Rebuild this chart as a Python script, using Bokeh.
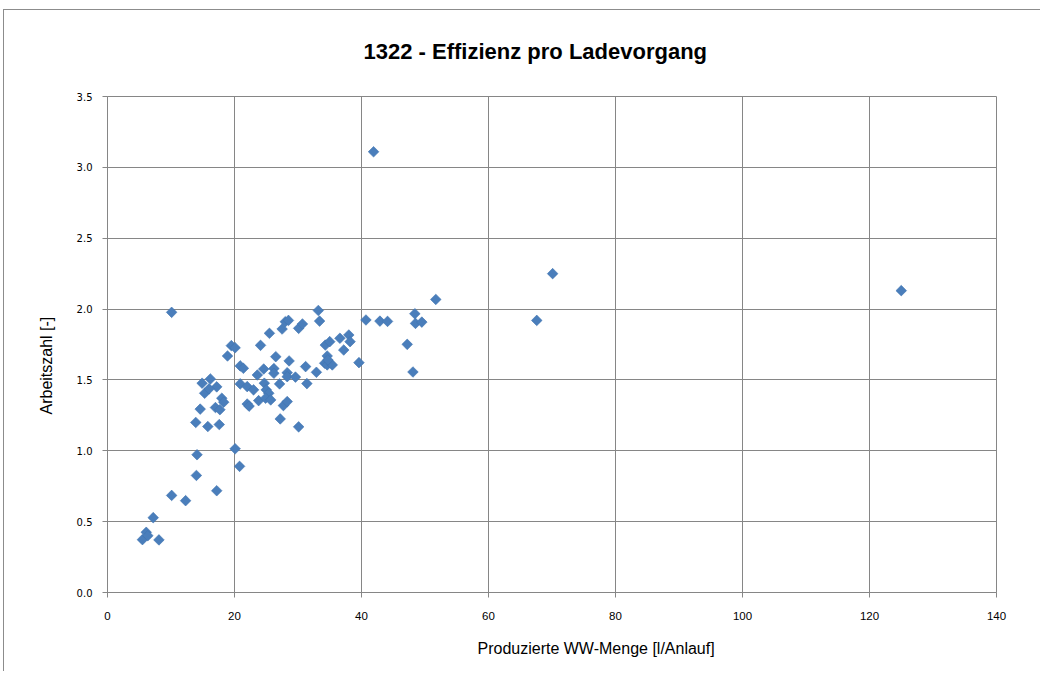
import math
from bokeh.plotting import figure
from bokeh.models import FixedTicker, PrintfTickFormatter, Range1d, Title, ColumnDataSource
from bokeh.embed import file_html
from bokeh.resources import INLINE

# Data
ww_menge = [5.5, 6.1, 6.35, 8.1, 7.2, 10.1, 12.3, 14.0, 14.1, 17.2, 20.1, 20.8, 10.1,
            13.9, 15.8, 17.6, 14.6, 17.0, 17.7, 18.0, 18.3, 14.9, 16.2, 17.2, 15.3, 16.0,
            18.9, 19.5, 20.1,
            20.9, 21.4, 20.9, 22.0, 23.0, 22.0, 22.3, 23.8, 23.6, 24.1, 24.6, 24.7, 25.0,
            25.4, 24.9, 25.7, 25.5, 26.2, 26.2, 26.5, 27.1, 27.2, 27.5, 28.0, 28.5, 27.7,
            28.3, 28.3, 28.3, 28.6, 29.6, 30.1, 30.1, 30.7, 31.2, 31.4, 32.9, 33.2, 33.4,
            34.3, 35.0, 34.6, 34.2, 34.6, 35.4, 34.7, 36.6, 38.0, 38.2, 37.2, 39.6, 40.7,
            42.9, 44.1, 41.9, 47.2, 48.1, 48.4, 48.5, 49.5, 51.7, 67.6, 70.1, 125.0]
arbeitszahl = [0.373, 0.425, 0.401, 0.371, 0.528, 0.685, 0.648, 0.826, 0.972, 0.718, 1.014, 0.89, 1.977,
               1.20, 1.171, 1.185, 1.294, 1.305, 1.29, 1.371, 1.343, 1.477, 1.507, 1.451, 1.406, 1.437,
               1.669, 1.742, 1.727,
               1.599, 1.582, 1.472, 1.453, 1.43, 1.33, 1.315, 1.354, 1.535, 1.744, 1.577, 1.477, 1.43,
               1.406, 1.371, 1.359, 1.829, 1.58, 1.547, 1.664, 1.472, 1.225, 1.859, 1.911, 1.92, 1.319,
               1.347, 1.551, 1.523, 1.634, 1.52, 1.169, 1.864, 1.895, 1.594, 1.474, 1.554, 1.99, 1.915,
               1.746, 1.77, 1.669, 1.618, 1.606, 1.606, 1.641, 1.794, 1.817, 1.77, 1.711, 1.622, 1.923,
               1.915, 1.913, 3.11, 1.751, 1.556, 1.967, 1.899, 1.908, 2.068, 1.92, 2.25, 2.13]

x_ticks = [0, 20, 40, 60, 80, 100, 120, 140]
y_ticks = [0.0, 0.5, 1.0, 1.5, 2.0, 2.5, 3.0, 3.5]

title_text = "1322 - Effizienz pro Ladevorgang"
x_title = "Produzierte WW-Menge [l/Anlauf]"
y_title = "Arbeitszahl  [-]"

GRID = "#868686"
MARK = "#4A7EBB"
FONT = "Liberation Sans"

line_img = "linear-gradient(#8c8c8c, #8c8c8c)"
p = figure(width=1040, height=671, output_backend="svg", toolbar_location=None,
           x_range=Range1d(0, 140), y_range=Range1d(0, 3.5), title=None,
           min_border_left=107, min_border_right=44, min_border_top=96, min_border_bottom=78,
           styles={"background-color": "white",
                   "background-image": line_img + ", " + line_img,
                   "background-size": "1px 100%, 100% 1px",
                   "background-position": "3px 9px, 3px 9px",
                   "background-repeat": "no-repeat"})
p.background_fill_color = "white"
p.border_fill_color = None
p.outline_line_color = GRID
p.outline_line_width = 1

p.xaxis.ticker = FixedTicker(ticks=x_ticks)
p.yaxis.ticker = FixedTicker(ticks=y_ticks)
p.yaxis.formatter = PrintfTickFormatter(format="%.1f")
for ax in (p.xaxis, p.yaxis):
    ax.axis_line_color = GRID
    ax.major_tick_line_color = GRID
    ax.major_tick_out = 5
    ax.major_tick_in = 0
    ax.minor_tick_line_color = None
    ax.major_label_text_color = "#000000"
p.xaxis.major_label_text_font = FONT
p.xaxis.major_label_text_font_size = "11.5px"
p.yaxis.major_label_text_font = "DejaVu Sans"
p.yaxis.major_label_text_font_size = "10px"
p.yaxis.major_label_standoff = 10
p.xaxis.major_label_standoff = 14

p.xgrid.ticker = FixedTicker(ticks=x_ticks)
p.ygrid.ticker = FixedTicker(ticks=y_ticks)
p.xgrid.grid_line_color = GRID
p.ygrid.grid_line_color = GRID

src = ColumnDataSource(dict(x=ww_menge, y=arbeitszahl))
p.scatter("x", "y", source=src, marker="square", size=7.5, angle=math.pi / 4,
          fill_color=MARK, line_color="#3F73B0", line_width=0.6)

# Titles (left aligned with offsets so that their positions match the reference)
p.add_layout(Title(text=title_text, align="left", offset=256, standoff=66,
                   text_font=FONT, text_font_style="bold",
                   text_font_size="22px", text_color="#000000"), "above")
p.add_layout(Title(text=x_title, align="left", offset=370, standoff=30,
                   text_font=FONT, text_font_style="normal",
                   text_font_size="16px", text_color="#000000"), "below")
p.add_layout(Title(text=y_title, align="left", offset=178, standoff=38,
                   text_font=FONT, text_font_style="normal",
                   text_font_size="16px", text_color="#000000"), "left")

open("out.html", "w").write(file_html(p, INLINE))
